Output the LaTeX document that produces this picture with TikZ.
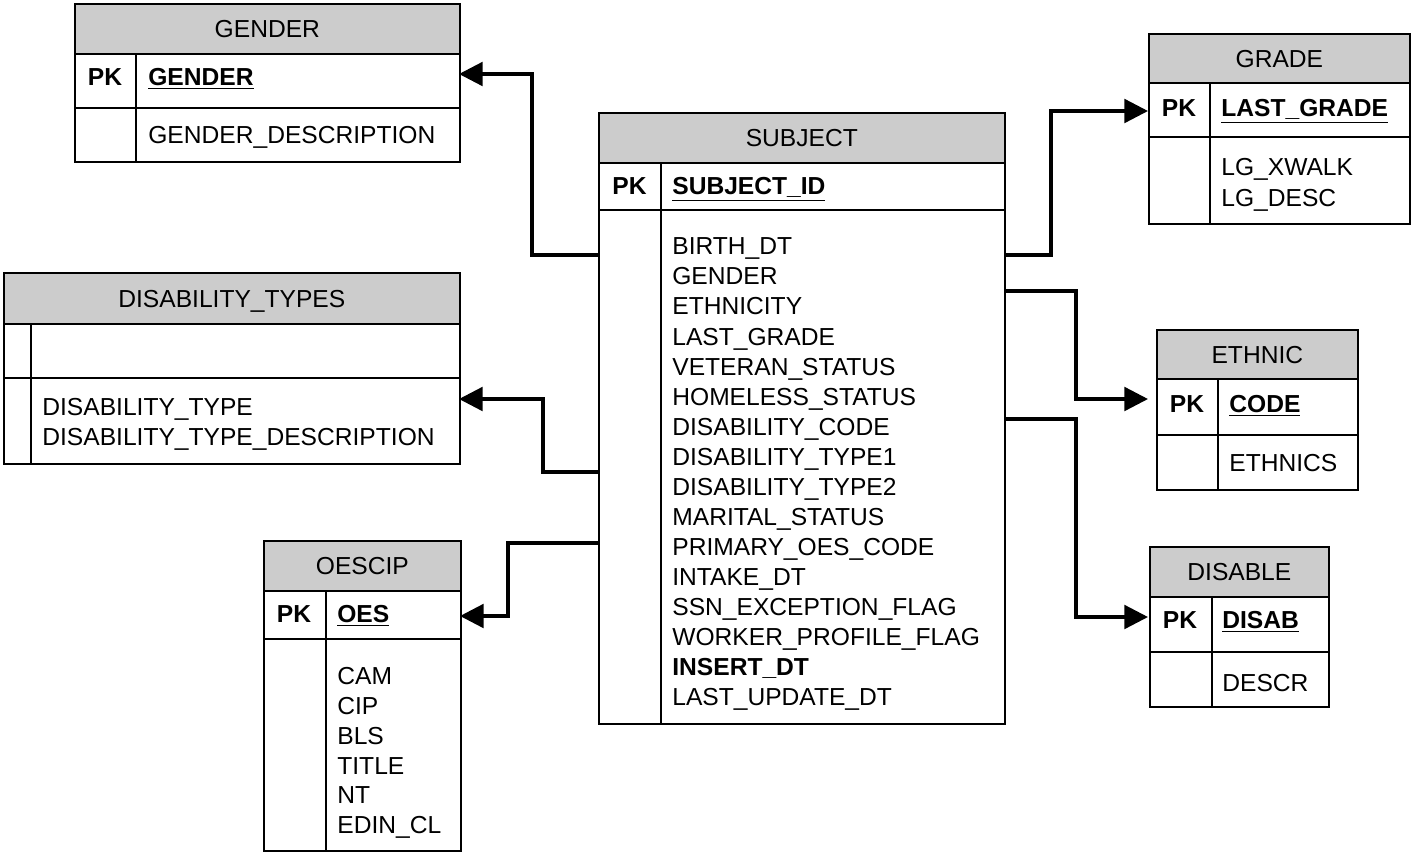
\documentclass[tikz,border=0pt]{standalone}
\usepackage{fontspec}
\setmainfont{Liberation Sans}
\usetikzlibrary{positioning,arrows.meta}
\definecolor{hdrgray}{RGB}{204,204,204}

\begin{document}
\begin{tikzpicture}[x=0.02cm,y=-0.02cm,
    font=\fontsize{14}{17}\selectfont,
    hdr/.style={draw, line width=1pt, fill=hdrgray, anchor=north west, inner sep=0pt,
        text height=10pt, text depth=0pt},
    cell/.style={draw, line width=1pt, anchor=north west, inner sep=0pt},
    txt/.style={anchor=west, inner sep=0pt, text height=10pt, text depth=0pt},
    pk/.style={anchor=center, inner sep=0pt, text height=10pt, text depth=0pt, font=\fontsize{14}{17}\selectfont\bfseries},
    fk/.style={line width=1.9pt, -{Triangle[length=13.5pt,width=13.5pt]}}]

\useasboundingbox (0,0) rectangle (1411,853);

% GENDER
\node[hdr, minimum width=7.7cm, minimum height=1cm] (gender-h) at (74,3) {GENDER};
\node[cell, minimum width=7.7cm, minimum height=1.08cm] (gender-k) at (74,53) {};
\node[cell, minimum width=7.7cm, minimum height=1.08cm] (gender-b) at (74,107) {};
\draw[line width=1pt] (136,53) -- (136,161);
\node[pk] (gender-pk) at (105,77) {PK};
\node[txt, font=\fontsize{14}{17}\selectfont\bfseries] (gender-id) at (148,77) {\underline{GENDER}};
\node[txt] (gender-f1) at (148,135) {GENDER\_DESCRIPTION};

% SUBJECT
\node[hdr, minimum width=8.12cm, minimum height=1cm] (subj-h) at (598,112) {SUBJECT};
\node[cell, minimum width=8.12cm, minimum height=0.94cm] (subj-k) at (598,162) {};
\node[cell, minimum width=8.12cm, minimum height=10.28cm] (subj-b) at (598,209) {};
\draw[line width=1pt] (661,162) -- (661,723);
\node[pk] (subj-pk) at (629.5,186) {PK};
\node[txt, font=\fontsize{14}{17}\selectfont\bfseries] (subj-id) at (672,186) {\underline{SUBJECT\_ID}};
\foreach \f [count=\i from 0] in {BIRTH\_DT, GENDER, ETHNICITY, LAST\_GRADE,
    VETERAN\_STATUS, HOMELESS\_STATUS, DISABILITY\_CODE, DISABILITY\_TYPE1,
    DISABILITY\_TYPE2, MARITAL\_STATUS, PRIMARY\_OES\_CODE, INTAKE\_DT,
    SSN\_EXCEPTION\_FLAG, WORKER\_PROFILE\_FLAG}
  \node[txt] (subj-f\i) at (672,246+30.07*\i) {\f};
\node[txt, font=\fontsize{14}{17}\selectfont\bfseries] (subj-f14) at (672,667) {INSERT\_DT};
\node[txt] (subj-f15) at (672,697) {LAST\_UPDATE\_DT};

% GRADE
\node[hdr, minimum width=5.22cm, minimum height=0.98cm] (grade-h) at (1148,33) {GRADE};
\node[cell, minimum width=5.22cm, minimum height=1.08cm] (grade-k) at (1148,82) {};
\node[cell, minimum width=5.22cm, minimum height=1.74cm] (grade-b) at (1148,136) {};
\draw[line width=1pt] (1210,82) -- (1210,223);
\node[pk] (grade-pk) at (1179,108) {PK};
\node[txt, font=\fontsize{14}{17}\selectfont\bfseries] (grade-id) at (1221,108) {\underline{LAST\_GRADE}};
\node[txt] (grade-f1) at (1221,167) {LG\_XWALK};
\node[txt] (grade-f2) at (1221,198) {LG\_DESC};

% DISABILITY_TYPES
\node[hdr, minimum width=9.12cm, minimum height=1.02cm] (dtype-h) at (3,272) {DISABILITY\_TYPES};
\node[cell, minimum width=9.12cm, minimum height=1.08cm] (dtype-k) at (3,323) {};
\node[cell, minimum width=9.12cm, minimum height=1.72cm] (dtype-b) at (3,377) {};
\draw[line width=1pt] (31,323) -- (31,463);
\node[txt] (dtype-f1) at (42,407) {DISABILITY\_TYPE};
\node[txt] (dtype-f2) at (42,437) {DISABILITY\_TYPE\_DESCRIPTION};

% OESCIP
\node[hdr, minimum width=3.94cm, minimum height=1cm] (oes-h) at (263,540) {OESCIP};
\node[cell, minimum width=3.94cm, minimum height=0.96cm] (oes-k) at (263,590) {};
\node[cell, minimum width=3.94cm, minimum height=4.24cm] (oes-b) at (263,638) {};
\draw[line width=1pt] (326,590) -- (326,850);
\node[pk] (oes-pk) at (294,614) {PK};
\node[txt, font=\fontsize{14}{17}\selectfont\bfseries] (oes-id) at (337,614) {\underline{OES}};
\foreach \f [count=\i from 0] in {CAM, CIP, BLS, TITLE, NT, EDIN\_CL}
  \node[txt] (oes-f\i) at (337,676+29.8*\i) {\f};

% ETHNIC
\node[hdr, minimum width=4.02cm, minimum height=0.98cm] (eth-h) at (1156,329) {ETHNIC};
\node[cell, minimum width=4.02cm, minimum height=1.12cm] (eth-k) at (1156,378) {};
\node[cell, minimum width=4.02cm, minimum height=1.1cm] (eth-b) at (1156,434) {};
\draw[line width=1pt] (1218,378) -- (1218,489);
\node[pk] (eth-pk) at (1187,404) {PK};
\node[txt, font=\fontsize{14}{17}\selectfont\bfseries] (eth-id) at (1229,404) {\underline{CODE}};
\node[txt] (eth-f1) at (1229,463) {ETHNICS};

% DISABLE
\node[hdr, minimum width=3.58cm, minimum height=1cm] (dis-h) at (1149,546) {DISABLE};
\node[cell, minimum width=3.58cm, minimum height=1.1cm] (dis-k) at (1149,596) {};
\node[cell, minimum width=3.58cm, minimum height=1.1cm] (dis-b) at (1149,651) {};
\draw[line width=1pt] (1212,596) -- (1212,706);
\node[pk] (dis-pk) at (1180,620) {PK};
\node[txt, font=\fontsize{14}{17}\selectfont\bfseries] (dis-id) at (1222,620) {\underline{DISAB}};
\node[txt] (dis-f1) at (1222,683) {DESCR};

% link ends
\coordinate (gender-in) at (459,74);
\coordinate (dtype-in) at (459,399);
\coordinate (oes-in) at (460,616);
\coordinate (grade-in) at (1148,111);
\coordinate (eth-in) at (1148,399);
\coordinate (dis-in) at (1148,617);
\coordinate (subj-o1) at (598,255);
\coordinate (subj-o2) at (598,472);
\coordinate (subj-o3) at (598,543);
\coordinate (subj-o4) at (1004,255);
\coordinate (subj-o5) at (1004,291);
\coordinate (subj-o6) at (1004,419);

% links
\draw[fk] (subj-o1) -- (532,255) |- (gender-in);
\draw[fk] (subj-o2) -- (543,472) |- (dtype-in);
\draw[fk] (subj-o3) -- (508,543) |- (oes-in);
\draw[fk] (subj-o4) -- (1051,255) |- (grade-in);
\draw[fk] (subj-o5) -- (1076,291) |- (eth-in);
\draw[fk] (subj-o6) -- (1076,419) |- (dis-in);

\end{tikzpicture}
\end{document}
